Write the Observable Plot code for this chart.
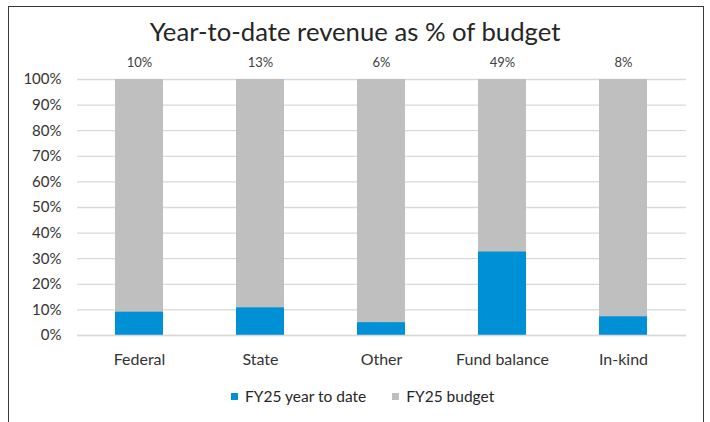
<!DOCTYPE html>
<html>
<head>
<meta charset="utf-8">
<script src="https://cdn.jsdelivr.net/npm/d3@7"></script>
<script src="https://cdn.jsdelivr.net/npm/@observablehq/plot@0.6"></script>
<style>
  html, body { margin: 0; padding: 0; background: #fff; }
  #wrap { position: relative; width: 710px; height: 422px; overflow: hidden; font-family: Lato, "Liberation Sans", sans-serif; color: #404040; }
  #frame { position: absolute; left: 8px; top: 6px; width: 696px; height: 430px; border: 1.3px solid #3a3a3a; box-sizing: border-box; }
  #title { position: absolute; left: 0; width: 710px; top: 15px; text-align: center; font-size: 25.7px; color: #262626; line-height: 32px; }
  #chart { position: absolute; left: 0; top: 40px; }
  #legend { position: absolute; left: 231px; top: 387px; font-size: 15.5px; display: flex; align-items: center; color: #262626; }
  .sw { width: 7px; height: 7px; display: inline-block; margin-right: 7px; }
  .item { display: flex; align-items: center; margin-right: 26px; }
</style>
</head>
<body>
<div id="wrap">
  <div id="frame"></div>
  <div id="title">Year-to-date revenue as % of budget</div>
  <div id="chart"></div>
  <div id="legend"></div>
</div>
<script>
const categories = ["Federal", "State", "Other", "Fund balance", "In-kind"];
const ytdValues = [0.091, 0.108, 0.050, 0.326, 0.073];
const budgetValues = [1, 1, 1, 1, 1];
const topLabels = ["10%", "13%", "6%", "49%", "8%"];
const yTicks = [0, 0.1, 0.2, 0.3, 0.4, 0.5, 0.6, 0.7, 0.8, 0.9, 1.0];
const seriesNames = ["FY25 year to date", "FY25 budget"];
const seriesColors = ["#0090D6", "#BFBFBF"];

const rows = categories.map((c, i) => ({ category: c, ytd: ytdValues[i], budget: budgetValues[i], label: topLabels[i] }));

const plot = Plot.plot({
  width: 710,
  height: 340,
  marginTop: 39,
  marginBottom: 45,
  marginLeft: 77,
  marginRight: 24,
  style: { fontFamily: "Lato, 'Liberation Sans', sans-serif", fontSize: "13px", color: "#333333", background: "transparent" },
  x: { domain: categories, paddingInner: 0.6, paddingOuter: 0.3, label: null },
  y: { domain: [0, 1], label: null },
  marks: [
    Plot.ruleY(yTicks, { stroke: "#D9D9D9", strokeWidth: 1.3 }),
    Plot.barY(rows, { x: "category", y: "budget", fill: seriesColors[1] }),
    Plot.barY(rows, { x: "category", y: "ytd", fill: seriesColors[0] }),
    Plot.ruleY([0], { stroke: "#D9D9D9", strokeWidth: 1.3 }),
    Plot.text(rows, { x: "category", y: "budget", text: "label", dy: -17, fontSize: 13, fill: "#404040" }),
    Plot.axisY({ ticks: yTicks, tickFormat: d3.format(".0%"), tickSize: 0, tickPadding: 16, fontSize: 15, label: null }),
    Plot.axisX({ tickSize: 0, tickPadding: 18, fontSize: 16, label: null })
  ]
});
document.getElementById("chart").appendChild(plot);

const legend = document.getElementById("legend");
seriesNames.forEach((n, i) => {
  const it = document.createElement("div");
  it.className = "item";
  it.innerHTML = `<span class="sw" style="background:${seriesColors[i]}"></span><span>${n}</span>`;
  legend.appendChild(it);
});
</script>
</body>
</html>
